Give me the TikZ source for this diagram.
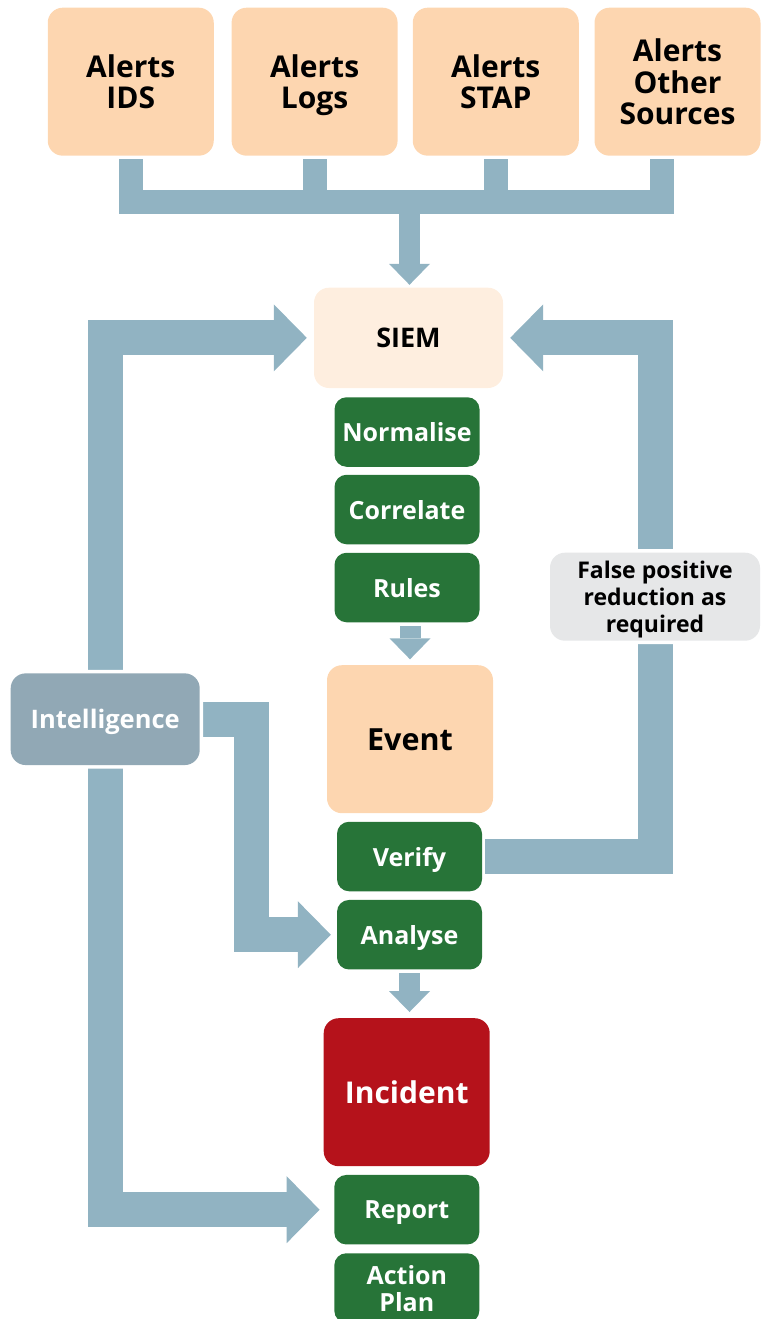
\documentclass[tikz,border=0pt]{standalone}
\usepackage{fontspec}
\setmainfont{Open Sans}
\usetikzlibrary{arrows.meta,backgrounds,calc}
\definecolor{peach}{HTML}{FDD6B0}
\definecolor{siemfill}{HTML}{FEEEDF}
\definecolor{stepgreen}{HTML}{277438}
\definecolor{alarmred}{HTML}{B5121B}
\definecolor{flow}{HTML}{91B3C2}
\definecolor{intelfill}{HTML}{91A8B5}
\definecolor{notefill}{HTML}{E6E7E8}
\begin{document}
\begin{tikzpicture}[x=1pt,y=-1pt,
  box/.style={rounded corners=15pt, inner sep=0pt, align=center, text depth=0pt},
  gap/.style={preaction={draw=white,line width=7pt}},
  source/.style={box, fill=peach, minimum width=166pt, minimum height=148pt,
    font=\fontsize{30}{31.5}\selectfont\bfseries},
  stage/.style={box, rounded corners=12pt, fill=stepgreen, text=white, minimum width=145pt, minimum height=69.5pt,
    font=\fontsize{25}{27}\selectfont\bfseries},
  bigbox/.style={box, minimum width=166pt, minimum height=148pt,
    font=\fontsize{30.5}{32}\selectfont\bfseries},
  bus/.style={draw=flow, line width=24pt, line join=miter, line cap=butt},
  pipe/.style={draw=flow, line width=35pt, line join=miter, line cap=butt,
    -{Triangle[width=67pt 0 0, length=33pt 0 0, line width=0pt]}},
  thin pipe/.style={draw=flow, line width=21pt, line cap=butt,
    -{Triangle[width=41pt 0 0, length=21pt 0 0, line width=0pt]}},
]
\useasboundingbox (0,0) rectangle (760,1319);

% alert sources
\node[source] (ids)   at (130.75,81.7) {Alerts\\IDS};
\node[source] (logs)  at (314.6,81.7)  {Alerts\\Logs};
\node[source] (stap)  at (495.75,81.7) {Alerts\\STAP};
\node[source] (other) at (677.5,81.7)  {Alerts\\Other\\Sources};

% SIEM and its processing steps
\node[box, fill=siemfill, minimum width=189pt, minimum height=100.3pt,
      font=\fontsize{27}{29}\selectfont\bfseries] (siem) at (408.5,337.85) {SIEM};
\node[stage] (normalise) at (407,432)   {Normalise};
\node[stage] (correlate) at (407,509.5) {Correlate};
\node[stage] (rules)     at (407,587.5) {Rules};

% event handling
\node[bigbox, fill=peach] (event) at (410,739.2) {Event};
\node[stage] (verify)  at (409.5,856.5) {Verify};
\node[stage] (analyse) at (409.5,934.7) {Analyse};

% incident handling
\node[bigbox, fill=alarmred, text=white, font=\fontsize{30}{32}\selectfont\bfseries] (incident) at (406.7,1092.2) {Incident};
\node[stage] (report) at (406.8,1209.7) {Report};
\node[stage] (action) at (406.8,1288)   {Action\\Plan};

% side boxes
\node[box, gap, fill=intelfill, text=white, minimum width=189pt, minimum height=91.7pt,
      font=\fontsize{25.5}{27}\selectfont\bfseries] (intel) at (105.2,719.2) {Intelligence};
\node[box, gap, fill=notefill, minimum width=210pt, minimum height=88pt,
      font=\fontsize{23}{26.7}\selectfont\bfseries] (note) at (655,596.7) {False positive\\reduction as\\required};

\coordinate (hub) at (409.5,202);

\begin{pgfonlayer}{background}
  % collector bus from the alert sources
  \draw[bus] ([yshift=-3.3pt]ids.south) |- (hub) -| ([xshift=-15.75pt,yshift=-3.3pt]other.south);
  \draw[bus] ([yshift=-3.3pt]logs.south) -- (logs.south |- hub);
  \draw[bus] ([yshift=-3.3pt]stap.south) -- (stap.south |- hub);
  \draw[thin pipe, shorten >=2.7pt] (hub) -- (hub |- siem.north);

  % steps down the main column
  \draw[thin pipe, shorten <=3.4pt, shorten >=5.7pt] (event.north |- rules.south) -- (event.north);
  \draw[thin pipe, shorten <=3.4pt, shorten >=6pt] (analyse.south) -- (analyse.south |- incident.north);

  % feedback loops into the SIEM
  \draw[pipe] ([yshift=3.3pt]intel.north) |- ([xshift=-7pt]siem.west);
  \draw[pipe] ([xshift=3pt]verify.east) -- ++(170.5,0) |- ([xshift=7pt]siem.east);

  % intelligence feeds analysis and reporting
  \draw[pipe] ([xshift=3pt]intel.east) -- ++(49,0) |- ([xshift=-6pt]analyse.west);
  \draw[pipe] ([yshift=-2pt]intel.south) |- ([xshift=-14.5pt]report.west);
\end{pgfonlayer}
\end{tikzpicture}
\end{document}
